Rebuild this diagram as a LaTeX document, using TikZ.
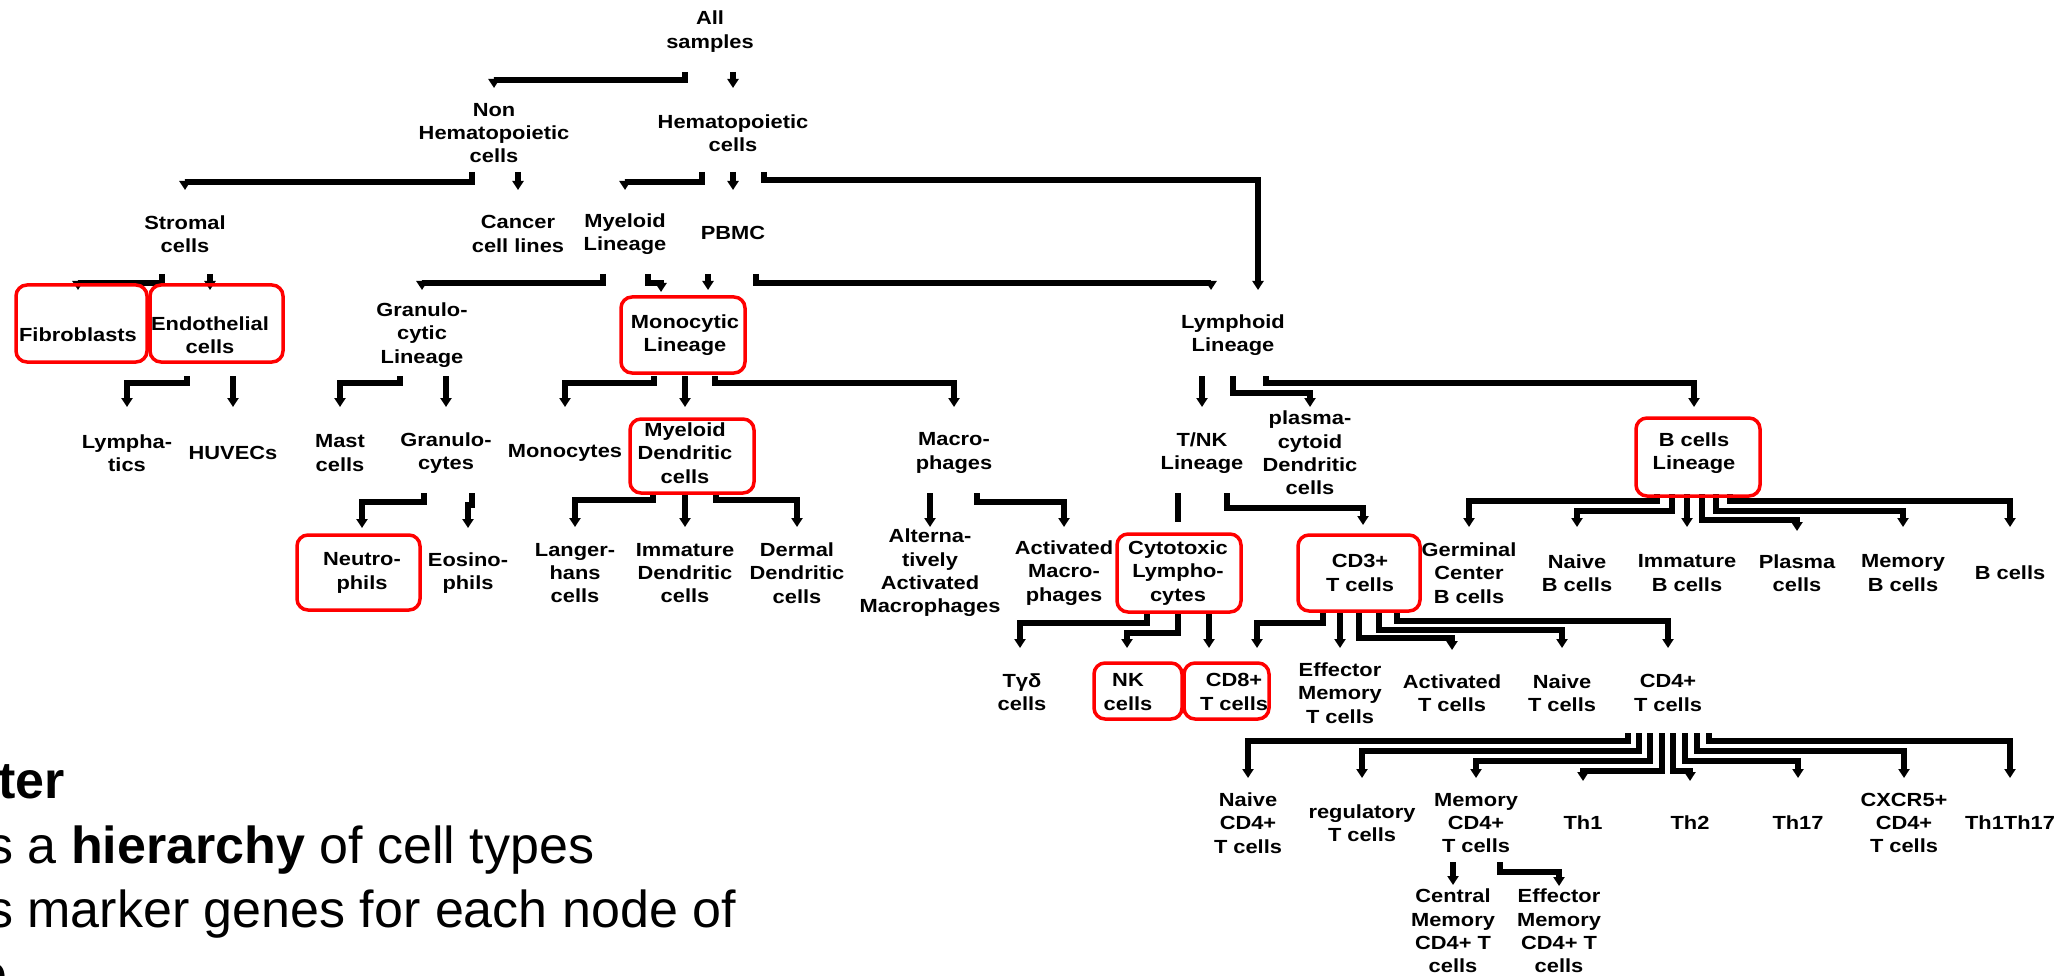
\documentclass[tikz,border=0pt]{standalone}
\usepackage{fontspec}
\setmainfont{Liberation Sans}
\newfontfamily\nf{Liberation Sans}[FakeStretch=1.15]
\usetikzlibrary{arrows.meta,calc}
\newcommand\elb[7]{\draw[conn] ($(#1 |- 0,#3)+(#2,0)$) -- ($(#1 |- 0,#4)+(#2,0)$) -| ($(#5 |- 0,#7)+(#6,0)$);}
\newcommand\dwn[6]{\draw[conn] ($(#1 |- 0,#3)+(#2,0)$) -- ($(#4 |- 0,#6)+(#5,0)$);}
\begin{document}
\begin{tikzpicture}[x=1pt,y=-1pt,
  lbl/.style={align=center,inner sep=0pt,font=\nf\bfseries\fontsize{19}{23.3}\selectfont},
  conn/.style={line width=5.5pt,-{Triangle[width=11pt,length=9pt]},line join=miter},
  bar/.style={line width=5.5pt},
  hl/.style={draw=red,line width=3.5pt,rounded corners=11pt},
  big/.style={anchor=base west,inner sep=0pt,font=\fontsize{52}{64.5}\selectfont}]
\fill[white] (0,0) rectangle (2069,976);
\useasboundingbox (0,0) rectangle (2069,976);

% nodes
\node[lbl] (all) at (710,31.5) {All\\samples};
\node[lbl] (nonh) at (494,133) {Non\\Hematopoietic\\cells};
\node[lbl] (hema) at (733,133) {Hematopoietic\\cells};
\node[lbl] (stromal) at (185,234) {Stromal\\cells};
\node[lbl] (cancer) at (518,234) {Cancer\\cell lines};
\node[lbl] (myeloid) at (625,234) {Myeloid\\Lineage};
\node[lbl] (pbmc) at (733,233) {PBMC};
\node[lbl] (fibro) at (78,335) {Fibroblasts};
\node[lbl] (endo) at (210,335) {Endothelial\\cells};
\node[lbl] (granulo) at (422,335) {Granulo-\\cytic\\Lineage};
\node[lbl] (mono) at (685,335) {Monocytic\\Lineage};
\node[lbl] (lymph) at (1233,335) {Lymphoid\\Lineage};
\node[lbl] (lymphatics) at (127,453) {Lympha-\\tics};
\node[lbl] (huvec) at (233,453) {HUVECs};
\node[lbl] (mast) at (340,453) {Mast\\cells};
\node[lbl] (granulocytes) at (446,453) {Granulo-\\cytes};
\node[lbl] (monocytes) at (565,453) {Monocytes};
\node[lbl] (mdc) at (685,453) {Myeloid\\Dendritic\\cells};
\node[lbl] (macro) at (954,453) {Macro-\\phages};
\node[lbl] (tnk) at (1202,453) {T/NK\\Lineage};
\node[lbl] (pdc) at (1310,453) {plasma-\\cytoid\\Dendritic\\cells};
\node[lbl] (bcl) at (1694,453) {B cells\\Lineage};
\node[lbl] (neutro) at (362,573) {Neutro-\\phils};
\node[lbl] (eosino) at (468,573) {Eosino-\\phils};
\node[lbl] (langer) at (575,573) {Langer-\\hans\\cells};
\node[lbl] (imdc) at (685,573) {Immature\\Dendritic\\cells};
\node[lbl] (dermal) at (797,573) {Dermal\\Dendritic\\cells};
\node[lbl] (altmac) at (930,573) {Alterna-\\tively\\Activated\\Macrophages};
\node[lbl] (actmac) at (1064,573) {Activated\\Macro-\\phages};
\node[lbl] (cyto) at (1178,573) {Cytotoxic\\Lympho-\\cytes};
\node[lbl] (cd3) at (1360,573) {CD3+\\T cells};
\node[lbl] (germ) at (1469,573) {Germinal\\Center\\B cells};
\node[lbl] (naiveb) at (1577,573) {Naive\\B cells};
\node[lbl] (immb) at (1687,573) {Immature\\B cells};
\node[lbl] (plasma) at (1797,573) {Plasma\\cells};
\node[lbl] (memb) at (1903,573) {Memory\\B cells};
\node[lbl] (bcells) at (2010,573) {B cells};
\node[lbl] (tgd) at (1022,692) {Tγδ\\cells};
\node[lbl] (nk) at (1128,692) {NK\\cells};
\node[lbl] (cd8) at (1234,692) {CD8+\\T cells};
\node[lbl] (effmem) at (1340,693) {Effector\\Memory\\T cells};
\node[lbl] (actt) at (1452,693) {Activated\\T cells};
\node[lbl] (naivet) at (1562,693) {Naive\\T cells};
\node[lbl] (cd4) at (1668,693) {CD4+\\T cells};
\node[lbl] (naivecd4) at (1248,823) {Naive\\CD4+\\T cells};
\node[lbl] (treg) at (1362,823) {regulatory\\T cells};
\node[lbl] (memcd4) at (1476,823) {Memory\\CD4+\\T cells};
\node[lbl] (th1) at (1583,823) {Th1};
\node[lbl] (th2) at (1690,823) {Th2};
\node[lbl] (th17) at (1798,823) {Th17};
\node[lbl] (cxcr5) at (1904,823) {CXCR5+\\CD4+\\T cells};
\node[lbl] (th1th17) at (2010,823) {Th1Th17};
\node[lbl] (cm) at (1453,931) {Central\\Memory\\CD4+ T\\cells};
\node[lbl] (em) at (1559,931) {Effector\\Memory\\CD4+ T\\cells};

% connectors
\elb{all}{-25}{72}{80}{nonh}{0}{88}
\dwn{all}{23}{72}{hema}{0}{88}
\elb{nonh}{-22}{172}{182}{stromal}{0}{190}
\dwn{nonh}{24}{172}{cancer}{0}{190}
\elb{hema}{-31}{172}{182}{myeloid}{0}{190}
\dwn{hema}{0}{172}{pbmc}{0}{190}
\elb{hema}{31}{172}{180}{lymph}{25}{290}
\elb{stromal}{-23}{274}{283}{fibro}{0}{290}
\dwn{stromal}{25}{274}{endo}{0}{290}
\elb{myeloid}{-22}{274}{283}{granulo}{0}{290}
\elb{myeloid}{23}{274}{283}{mono}{-24}{292}
\dwn{pbmc}{-25}{274}{mono}{23}{290}
\elb{pbmc}{23}{274}{283}{lymph}{-22}{290}
\elb{endo}{-23}{376}{383}{lymphatics}{0}{407}
\dwn{endo}{23}{376}{huvec}{0}{407}
\elb{granulo}{-22}{376}{383}{mast}{0}{407}
\dwn{granulo}{24}{376}{granulocytes}{0}{407}
\elb{mono}{-31}{376}{383}{monocytes}{0}{407}
\dwn{mono}{0}{376}{mdc}{0}{407}
\elb{mono}{30}{376}{383}{macro}{0}{407}
\dwn{lymph}{-31}{376}{tnk}{0}{407}
\elb{lymph}{0}{376}{393}{pdc}{0}{407}
\elb{lymph}{33}{376}{383}{bcl}{0}{407}
\elb{granulocytes}{-22}{493}{502}{neutro}{0}{528}
\elb{granulocytes}{26}{493}{505}{eosino}{0}{528}
\elb{mdc}{-32}{494}{500}{langer}{0}{527}
\dwn{mdc}{0}{494}{imdc}{0}{527}
\elb{mdc}{31}{494}{500}{dermal}{0}{527}
\dwn{macro}{-24}{493}{altmac}{0}{527}
\elb{macro}{23}{493}{502}{actmac}{0}{527}
\draw[bar] ($(tnk |- 0,493)+(-24,0)$) -- (cyto |- 0,522);
\elb{tnk}{25}{493}{508}{cd3}{3}{525}
\elb{bcl}{-37}{494}{501}{germ}{0}{527}
\elb{bcl}{-22}{494}{511}{naiveb}{0}{527}
\dwn{bcl}{-7}{494}{immb}{0}{527}
\elb{bcl}{8}{494}{520}{plasma}{0}{531}
\elb{bcl}{22}{494}{511}{memb}{0}{527}
\elb{bcl}{36}{494}{501}{bcells}{0}{527}
\elb{cyto}{-31}{612}{623}{tgd}{-2}{648}
\elb{cyto}{0}{612}{633}{nk}{-1}{648}
\dwn{cyto}{31}{612}{cd8}{-25}{648}
\elb{cd3}{-37}{612}{623}{cd8}{23}{648}
\dwn{cd3}{-20}{612}{effmem}{0}{648}
\elb{cd3}{-1}{612}{638}{actt}{0}{650}
\elb{cd3}{19}{612}{630}{naivet}{0}{648}
\elb{cd3}{37}{612}{621}{cd4}{0}{648}
\elb{cd4}{-40}{733}{741}{naivecd4}{0}{778}
\elb{cd4}{-29}{733}{751}{treg}{0}{778}
\elb{cd4}{-18}{733}{761}{memcd4}{0}{778}
\elb{cd4}{-6}{733}{771}{th1}{0}{781}
\elb{cd4}{5}{733}{771}{th2}{0}{781}
\elb{cd4}{17}{733}{761}{th17}{0}{778}
\elb{cd4}{29}{733}{751}{cxcr5}{0}{778}
\elb{cd4}{41}{733}{741}{th1th17}{0}{778}
\dwn{memcd4}{-23}{862}{cm}{0}{885}
\elb{memcd4}{24}{862}{872}{em}{0}{886}

% highlight boxes
\draw[hl] (16,285) rectangle (147,362);
\draw[hl] (150,285) rectangle (283,362);
\draw[hl] (621,297) rectangle (745,373);
\draw[hl] (630,419) rectangle (754,493);
\draw[hl] (297,535) rectangle (420,610);
\draw[hl] (1117,534) rectangle (1241,612);
\draw[hl] (1298,535) rectangle (1420,611);
\draw[hl] (1636,418) rectangle (1760,496);
\draw[hl] (1094,663) rectangle (1182,719);
\draw[hl] (1184,663) rectangle (1269,719);

% cut-off slide text
\node[big] (t1) at (-2,798) {\bfseries ter};
\node[big] (t2) at (-13,863) {s a \textbf{hierarchy} of cell types};
\node[big] (t3) at (-13,927) {s marker genes for each node of};
\node[big] (t4) at (-22,991) {e};
\end{tikzpicture}
\end{document}
